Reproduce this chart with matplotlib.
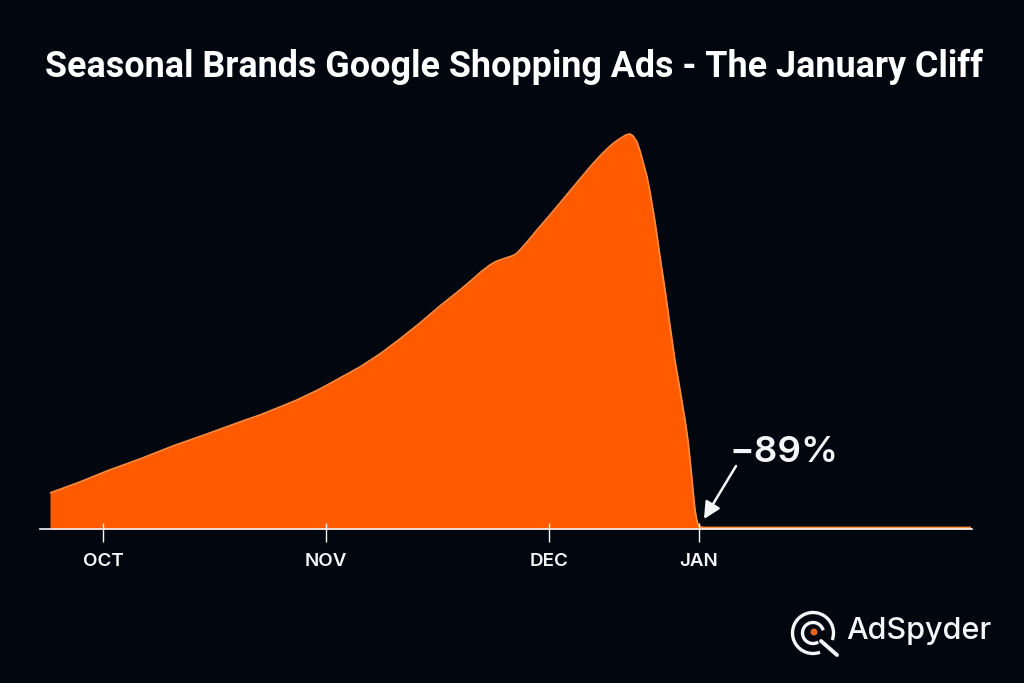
import matplotlib
matplotlib.use("Agg")
import matplotlib.pyplot as plt
from matplotlib.patches import Arc, Circle

BG = "#02060F"
ORANGE = "#FF5A00"
EDGE = "#FF8A3C"
WHITE = "#F5F6F7"

TITLE = "Seasonal Brands Google Shopping Ads - The January Cliff"
TICK_POS = [103, 326, 549, 699]
TICK_LABELS = ["OCT", "NOV", "DEC", "JAN"]

# ad spend index along the season (x in chart units, y = height above baseline)
season_x = [50, 80, 107, 140, 173, 207, 240, 260, 280, 297, 320, 340, 360, 380, 400, 420,
            440, 460, 473, 482, 490, 495, 500, 506, 512, 516, 520, 528, 537, 550, 560, 570,
            580, 590, 600, 608, 615, 621, 626, 630, 633, 637, 640, 643, 647, 650, 655, 660,
            665, 670, 675, 680, 685, 688, 690, 692, 694, 695, 696, 697, 698, 699, 701, 704,
            720, 800, 900, 971]
season_y = [36, 47, 58, 70, 83, 95, 107, 114, 122, 129, 140, 151, 162, 175, 190, 206,
            223, 239, 250, 258, 264, 267, 269, 271, 273, 275, 279, 288, 299, 314, 326, 338,
            350, 362, 373, 381, 387, 391, 394, 395, 393, 387, 378, 367, 352, 337, 307, 272,
            239, 203, 168, 139, 109, 88, 69, 49, 28, 19, 13, 8, 5, 3, 2, 1.5,
            1.5, 1.5, 1.5, 1.5]

plt.rcParams["font.family"] = ["Inter", "DejaVu Sans"]

fig = plt.figure(figsize=(10.24, 6.83), dpi=100, facecolor=BG)
ax = fig.add_axes([40 / 1024, 1 - 529 / 683, (972 - 40) / 1024, (529 - 100) / 683], facecolor=BG)
ax.set_xlim(40, 972)
ax.set_ylim(0, 429)

ax.fill_between(season_x, 0, season_y, color=ORANGE, lw=0, zorder=1)
ax.plot(season_x, season_y, color=EDGE, lw=1.3, zorder=1.5, solid_capstyle="butt", solid_joinstyle="round")

for side in ["top", "left", "right"]:
    ax.spines[side].set_visible(False)
ax.spines["bottom"].set_color(WHITE)
ax.spines["bottom"].set_linewidth(1.2)
ax.set_yticks([])

# ticks stick out below the axis and a little way into the fill
ax.set_xticks(TICK_POS)
ax.set_xticks(TICK_POS, minor=True)
ax.xaxis.remove_overlapping_locs = False
ax.set_xticklabels(TICK_LABELS, fontsize=13.5, fontweight="semibold", color=WHITE)
ax.tick_params(axis="x", which="major", length=9.5, width=1, color=WHITE, pad=8)
ax.tick_params(axis="x", which="minor", direction="in", length=4, width=1, color=WHITE)

ax.annotate("", xy=(704, 10), xytext=(736, 63),
            arrowprops=dict(arrowstyle="-|>,head_length=1.0,head_width=0.5", color=WHITE, lw=1.8,
                            shrinkA=0, shrinkB=0))
ax.text(729, 77, "\u221289%", color=WHITE, fontsize=26.5, fontweight="semibold", va="center", ha="left")

fig.text(514 / 1024, 1 - 67 / 683, TITLE, color="white", fontsize=25.8, fontweight="bold", ha="center", va="center",
         family=["Roboto", "DejaVu Sans"])

# logo mark, drawn in pixel coordinates on a full-figure overlay
logo = fig.add_axes([0, 0, 1, 1], facecolor="none")
logo.set_xlim(0, 1024)
logo.set_ylim(683, 0)
logo.axis("off")
logo.add_patch(Arc((813, 633), 41, 41, theta1=70, theta2=20, color=WHITE, lw=2.4))
logo.add_patch(Arc((813, 633), 21, 21, theta1=60, theta2=345, color=WHITE, lw=2.4))
logo.add_patch(Circle((814, 632), 3.5, color="#E8641E", lw=0))
logo.plot([821, 837], [641, 655], color=WHITE, lw=2.8, solid_capstyle="round")
logo.text(846, 631, "AdSpyder", color=WHITE, fontsize=22, fontweight="medium", ha="left", va="center")

fig.savefig("out.png", dpi=100, facecolor=BG)
